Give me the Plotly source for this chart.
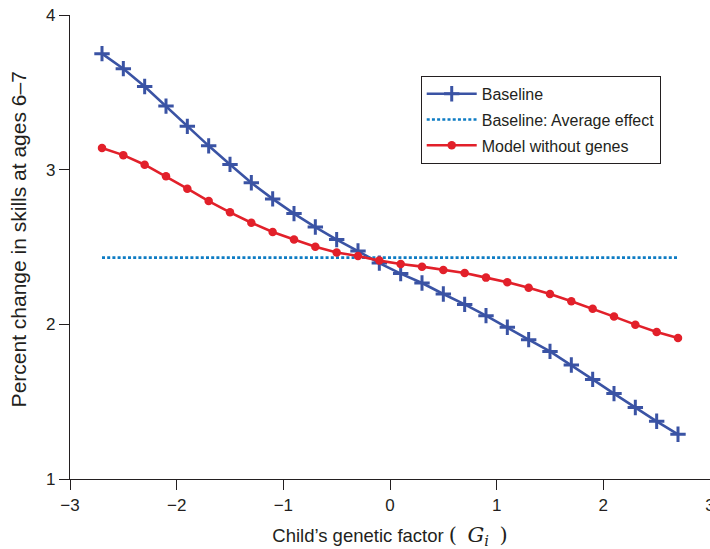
import plotly.graph_objects as go

# Child's genetic factor grid
g_values = [-2.7, -2.5, -2.3, -2.1, -1.9, -1.7, -1.5, -1.3, -1.1, -0.9, -0.7, -0.5, -0.3, -0.1,
            0.1, 0.3, 0.5, 0.7, 0.9, 1.1, 1.3, 1.5, 1.7, 1.9, 2.1, 2.3, 2.5, 2.7]

# Percent change in skills at ages 6-7
baseline = [3.750, 3.653, 3.538, 3.411, 3.280, 3.154, 3.034, 2.915, 2.811, 2.716, 2.629, 2.548,
            2.474, 2.396, 2.328, 2.267, 2.196, 2.129, 2.056, 1.981, 1.901, 1.825, 1.737, 1.644,
            1.552, 1.462, 1.373, 1.289]
model_without_genes = [3.140, 3.094, 3.032, 2.957, 2.877, 2.797, 2.724, 2.657, 2.597, 2.548,
                       2.502, 2.465, 2.442, 2.412, 2.390, 2.373, 2.352, 2.332, 2.302, 2.272,
                       2.237, 2.196, 2.149, 2.101, 2.050, 1.998, 1.950, 1.911]
average_effect = 2.431

x_ticks = [-3, -2, -1, 0, 1, 2, 3]
y_ticks = [1, 2, 3, 4]

BLUE = "#3A53A4"
RED = "#E2202A"
LIGHT_BLUE = "#0E7CC4"
INK = "#231F20"
FONT = "Liberation Sans, Arial, Helvetica, sans-serif"
SERIF = "DejaVu Serif, Liberation Serif, serif"

fig = go.Figure()

fig.add_trace(go.Scatter(
    x=g_values, y=baseline, name="Baseline", mode="lines+markers",
    legendgroup="a",
    line=dict(color=BLUE, width=2.6),
    marker=dict(symbol="cross-thin", size=11, line=dict(color=BLUE, width=3)),
))
fig.add_trace(go.Scatter(
    x=[g_values[0], g_values[-1]], y=[average_effect, average_effect],
    name="Baseline: Average effect", mode="lines",
    legendgroup="b",
    line=dict(color=LIGHT_BLUE, width=2.6, dash="3px,2.2px"),
))
fig.add_trace(go.Scatter(
    x=g_values, y=model_without_genes, name="Model without genes", mode="lines+markers",
    legendgroup="c",
    line=dict(color=RED, width=2.6),
    marker=dict(symbol="circle", size=8.5, color=RED),
))

axis_common = dict(
    showline=True, linecolor=INK, linewidth=1.3, mirror=False,
    ticks="outside", ticklen=10, tickwidth=1.2, tickcolor=INK,
    showgrid=False, zeroline=False, automargin=False,
    tickfont=dict(family=FONT, size=17, color=INK),
    ticklabeloverflow="allow",
)

fig.update_layout(
    width=710, height=549,
    margin=dict(l=70, r=0, t=15, b=70),
    paper_bgcolor="white", plot_bgcolor="white",
    font=dict(family=FONT, color=INK),
    xaxis=dict(
        range=[-3, 3], tickvals=x_ticks,
        title=dict(
            text="Child\u2019s genetic factor "
                 f"<span style='font-family:{SERIF};font-size:21px'>"
                 "(\u2002<i>G</i><sub><i>i</i></sub>\u2002)</span>",
            font=dict(family=FONT, size=18.5, color=INK)),
        **axis_common,
    ),
    yaxis=dict(range=[1, 4], tickvals=y_ticks, **axis_common),
    legend=dict(
        x=0.548, y=0.869, xanchor="left", yanchor="top",
        bordercolor=INK, borderwidth=1, bgcolor="white",
        font=dict(family=FONT, size=16, color=INK),
        itemwidth=50, tracegroupgap=2,
    ),
    showlegend=True,
)

# Vertical axis title
fig.add_annotation(
    text="Percent change in skills at ages 6\u20137",
    xref="paper", yref="paper", x=-0.08, y=0.516,
    xanchor="center", yanchor="middle", textangle=-90, showarrow=False,
    font=dict(family=FONT, size=21, color=INK),
)

fig.write_html("out.html")
